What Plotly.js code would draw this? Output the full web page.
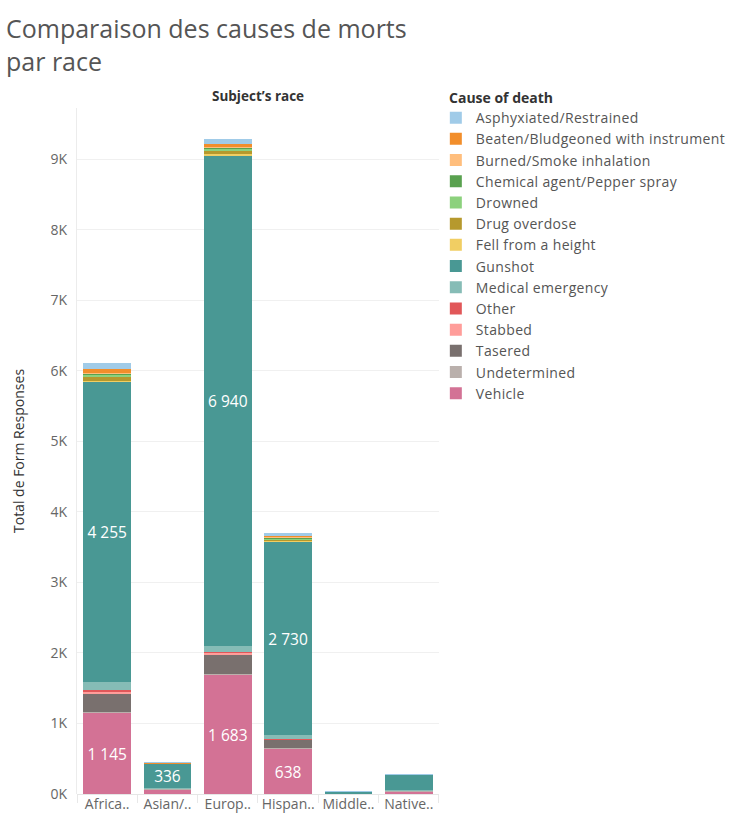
<!DOCTYPE html>
<html>
<head>
<meta charset="utf-8">
<script src="https://cdn.plot.ly/plotly-3.0.1.min.js"></script>
<style>
html,body{margin:0;padding:0;background:#fff;}
#chart{width:733px;height:834px;}
.legendtext{letter-spacing:0.35px;}
</style>
</head>
<body>
<div id="chart"></div>
<script>
// ---- DATA ----
const categories = ['African-American/Black','Asian/Pacific Islander','European-American/White','Hispanic/Latino','Middle Eastern','Native American/Alaskan'];
const categoryLabels = ['Africa..','Asian/..','Europ..','Hispan..','Middle..','Native..'];

// stacked from bottom to top
const causes = ['Vehicle','Undetermined','Tasered','Stabbed','Other','Medical emergency','Gunshot','Fell from a height','Drug overdose','Drowned','Chemical agent/Pepper spray','Burned/Smoke inhalation','Beaten/Bludgeoned with instrument','Asphyxiated/Restrained'];

const vehicle      = [1145, 57, 1683, 638, 0, 33];
const undetermined = [15, 10, 24, 14, 0, 10];
const tasered      = [265, 3, 270, 113, 0, 2];
const stabbed      = [20, 2, 19, 5, 0, 1];
const other        = [25, 3, 14, 9, 0, 1];
const medical      = [113, 15, 95, 60, 2, 14];
const gunshot      = [4255, 336, 6940, 2730, 33, 213];
const fell         = [25, 1, 28, 19, 0, 0];
const drug         = [47, 1, 43, 19, 0, 1];
const drowned      = [38, 1, 33, 14, 0, 0];
const chemical     = [10, 0, 14, 5, 0, 0];
const burned       = [19, 0, 14, 14, 0, 0];
const beaten       = [52, 12, 43, 24, 0, 1];
const asphyxiated  = [85, 8, 66, 43, 8, 12];

const yTickVals  = [0,1000,2000,3000,4000,5000,6000,7000,8000,9000];
const yTickText  = ['0K','1K','2K','3K','4K','5K','6K','7K','8K','9K'];

// ---- STYLE ----
const seriesValues = [vehicle, undetermined, tasered, stabbed, other, medical, gunshot, fell, drug, drowned, chemical, burned, beaten, asphyxiated];
const colors = ['#D37295','#BAB0AC','#79706E','#FF9D9A','#E15759','#86BCB6','#499894','#F1CE63','#B6992D','#8CD17D','#59A14F','#FFBE7D','#F28E2B','#A0CBE8'];
const labelled = {'Vehicle': true, 'Gunshot': true};

function fmt(v){ return String(v).replace(/\B(?=(\d{3})+(?!\d))/g, ' '); }

const FONT = '"Open Sans", "DejaVu Sans", sans-serif';

const traces = causes.map((c, i) => {
  const vals = seriesValues[i];
  const t = {
    type: 'bar', name: c, x: categories, y: vals,
    marker: {color: colors[i], line: {width: 0}},
    hoverinfo: 'none'
  };
  if (labelled[c]) {
    t.text = vals.map(v => v >= 300 ? fmt(v) : '');
    t.textposition = 'inside';
    t.insidetextanchor = 'middle';
    t.textangle = 0;
    t.constraintext = 'none';
    t.textfont = {color: '#ffffff', size: 15.5, family: FONT};
  } else {
    t.textposition = 'none';
  }
  return t;
});

// geometry: paper = 733 - 77 - 0 = 656 wide, 834 - 108 - 40 = 686 tall
const layout = {
  width: 733, height: 834,
  paper_bgcolor: '#fff', plot_bgcolor: '#fff',
  barmode: 'stack', bargap: 0.21,
  font: {family: FONT, color: '#666', size: 14},
  margin: {l: 77, r: 0, t: 108, b: 40},
  showlegend: true,
  legend: {
    x: 0.547, xanchor: 'left', y: 1.0087, yanchor: 'top',
    traceorder: 'reversed',
    font: {size: 14, color: '#555', family: FONT},
    itemwidth: 30, tracegroupgap: 0, bgcolor: 'rgba(0,0,0,0)'
  },
  xaxis: {
    type: 'category', domain: [0, 0.5518],
    tickvals: categories, ticktext: categoryLabels, tickangle: 0,
    tickfont: {size: 14, color: '#666'},
    ticks: 'outside', tickson: 'boundaries', ticklen: 8, tickcolor: '#e8e8e8',
    showgrid: false, showline: false, zeroline: false,
    fixedrange: true
  },
  yaxis: {
    range: [0, 9730],
    tickvals: yTickVals, ticktext: yTickText,
    tickfont: {size: 14, color: '#666'},
    showgrid: true, gridcolor: '#f0f0f0', gridwidth: 1,
    zeroline: true, zerolinecolor: '#e6e6e6',
    showline: true, linecolor: '#ececec',
    ticks: '', ticklabelstandoff: 6,
    fixedrange: true
  },
  annotations: [
    {text: 'Comparaison des causes de morts<br>par race', xref: 'paper', yref: 'paper',
     x: 0, xshift: -73, y: 1, yshift: 99, xanchor: 'left', yanchor: 'top', align: 'left',
     showarrow: false, font: {size: 25, color: '#555', family: FONT}},
    {text: '<b>Subject\u2019s race</b>', xref: 'x domain', yref: 'paper', x: 0.5, y: 1.0, yshift: 12,
     xanchor: 'center', yanchor: 'middle', showarrow: false, font: {size: 13.5, color: '#333', family: FONT}},
    {text: '<b>Cause of death</b>', xref: 'paper', yref: 'paper', x: 0.564, y: 1.0, yshift: 11,
     xanchor: 'left', yanchor: 'middle', showarrow: false, font: {size: 14, color: '#333', family: FONT}},
    {text: 'Total de Form Responses', xref: 'paper', yref: 'paper', x: 0, xshift: -59, y: 0.5,
     textangle: -90, xanchor: 'center', yanchor: 'middle', showarrow: false,
     font: {size: 14, color: '#333', family: FONT}}
  ]
};

Plotly.newPlot('chart', traces, layout, {displayModeBar: false, staticPlot: true});
</script>
</body>
</html>
